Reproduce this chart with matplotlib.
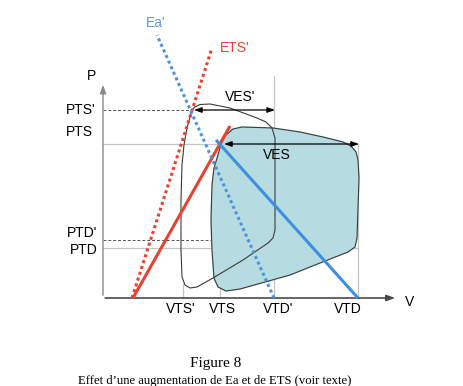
import matplotlib
matplotlib.use("Agg")
import matplotlib.pyplot as plt
import numpy as np

# ---- data (schematic P-V units; origin at axes corner) ----
v_labels = ["VTS'", "VTS", "VTD'", "VTD"]
v_values = [80, 117, 171, 255]
p_labels = ["PTS'", "PTS", "PTD'", "PTD"]
p_values = [188, 154, 58, 50]

# original loop (shaded)
loop_v = [118, 123, 130, 139, 170, 197, 220, 240, 248, 253, 255, 256, 255, 254, 252, 245, 222, 187, 137, 123, 115, 111, 109, 108, 109, 111, 115, 118]
loop_p = [154, 163, 169, 171, 170, 166, 161, 156, 152, 146, 138, 120, 90, 60, 51, 46, 37, 23, 9, 7, 11, 20, 48, 78, 113, 130, 143, 154]
# new loop (after increase of Ea and ETS)
loop2_v = [89, 92, 97, 107, 127, 154, 163, 169, 172, 172, 172, 170, 165, 140, 110, 94, 87, 82, 79, 78, 78, 79, 81, 84, 89]
loop2_p = [188, 191, 193.5, 194, 190, 180, 176, 170, 160, 128, 68, 60, 55, 38, 20, 11, 10, 13, 21, 48, 98, 133, 153, 170, 188]

ets_v, ets_p = [30, 127], [0, 172]
ets2_v, ets2_p = [29, 109], [0, 250]
ea_v, ea_p = [255, 113], [0, 158]
ea2_v, ea2_p = [171, 54], [0, 263]

RED = "#e5432f"
BLUE = "#3c8fe3"
BLUE_D = "#4d93dc"
FILL = "#b6dce1"
GRID = "#c4c4c4"

fig = plt.figure(figsize=(4.63, 3.86), dpi=100)
ax = fig.add_axes([0, 0, 1, 1])
ax.set_xlim(-103, 360)
ax.set_ylim(-88, 298)
ax.axis("off")

SANS = ["Liberation Sans", "DejaVu Sans"]
SERIF = ["Liberation Serif", "DejaVu Serif"]

# reference lines
ax.plot([0, v_values[3]], [p_values[1]] * 2, color=GRID, lw=0.9, zorder=1)
ax.plot([0, v_values[3]], [p_values[3]] * 2, color=GRID, lw=0.9, zorder=1)
ax.plot([v_values[0]] * 2, [0, 14], color=GRID, lw=0.9, zorder=1)
ax.plot([v_values[1]] * 2, [0, p_values[1]], color=GRID, lw=0.9, zorder=1)
ax.plot([v_values[2]] * 2, [0, 222], color=GRID, lw=0.9, zorder=1)
ax.plot([v_values[3]] * 2, [0, p_values[1]], color=GRID, lw=0.9, zorder=1)
ax.plot([0, 89], [p_values[0]] * 2, color="#555555", lw=0.7, ls=(0, (3, 2)), zorder=1)
ax.plot([0, 172], [p_values[2]] * 2, color="#555555", lw=0.7, ls=(0, (3, 2)), zorder=1)

# loops
ax.fill(loop_v, loop_p, color=FILL, zorder=2)
ax.plot(loop_v, loop_p, color="#3a3a3a", lw=0.8, zorder=3)
ax.plot(loop2_v, loop2_p, color="#3a3a3a", lw=0.8, zorder=3)

# elastance lines
ax.plot(ets_v, ets_p, color=RED, lw=2.2, solid_capstyle="butt", zorder=4)
ax.plot(ea_v, ea_p, color=BLUE, lw=2.2, solid_capstyle="butt", zorder=4)
ax.plot(ets2_v, ets2_p, color=RED, lw=2.2, ls=(0, (1, 1)), dash_capstyle="butt", zorder=4)
ax.plot(ea2_v, ea2_p, color=BLUE_D, lw=2.2, ls=(0, (1, 1)), dash_capstyle="butt", zorder=4)

# axes with arrows
ax.annotate("", xy=(0, 216), xytext=(0, 0),
            arrowprops=dict(arrowstyle="-|>,head_length=0.5,head_width=0.18", color="#8a8a8a", lw=1.0))
ax.annotate("", xy=(295, 0), xytext=(-0.5, 0),
            arrowprops=dict(arrowstyle="-|>,head_length=0.5,head_width=0.18", color="#4a4a4a", lw=1.2))

# stroke volume arrows
ax.annotate("", xy=(91, 188), xytext=(172, 188),
            arrowprops=dict(arrowstyle="<|-|>,head_length=0.45,head_width=0.16", color="black", lw=0.9, shrinkA=0, shrinkB=0), zorder=5)
ax.annotate("", xy=(121, 154), xytext=(256, 154),
            arrowprops=dict(arrowstyle="<|-|>,head_length=0.45,head_width=0.16", color="black", lw=0.9, shrinkA=0, shrinkB=0), zorder=5)

fs = 10
ax.text(137, 201, "VES'", fontsize=fs, family=SANS, ha="center", va="center", zorder=6)
ax.text(174, 143, "VES", fontsize=fs, family=SANS, ha="center", va="center", zorder=6)
ax.text(53, 275, "Ea'", fontsize=fs, family=SANS, ha="center", va="center", color="#5b9bdc")
ax.text(132, 250, "ETS'", fontsize=fs, family=SANS, ha="center", va="center", color=RED)
ax.text(-12, 222, "P", fontsize=fs, family=SANS, ha="center", va="center")
ax.text(307, -4, "V", fontsize=fs, family=SANS, ha="center", va="center")

p_label_x = [-22, -23.5, -21, -19]
p_label_y = [188, 166, 65, 48]
for lab, x, y in zip(p_labels, p_label_x, p_label_y):
    ax.text(x, y, lab, fontsize=fs, family=SANS, ha="center", va="center")

v_label_x = [78, 119, 175, 245]
for lab, x in zip(v_labels, v_label_x):
    ax.text(x, -11, lab, fontsize=fs, family=SANS, ha="center", va="center")

ax.text(113, -65, "Figure 8", fontsize=11, family=SERIF, ha="center", va="center")
ax.text(112, -83, "Effet d\u2019une augmentation de Ea et de ETS (voir texte)", fontsize=9.1,
        family=SERIF, ha="center", va="center")

fig.savefig("out.png", dpi=100)
